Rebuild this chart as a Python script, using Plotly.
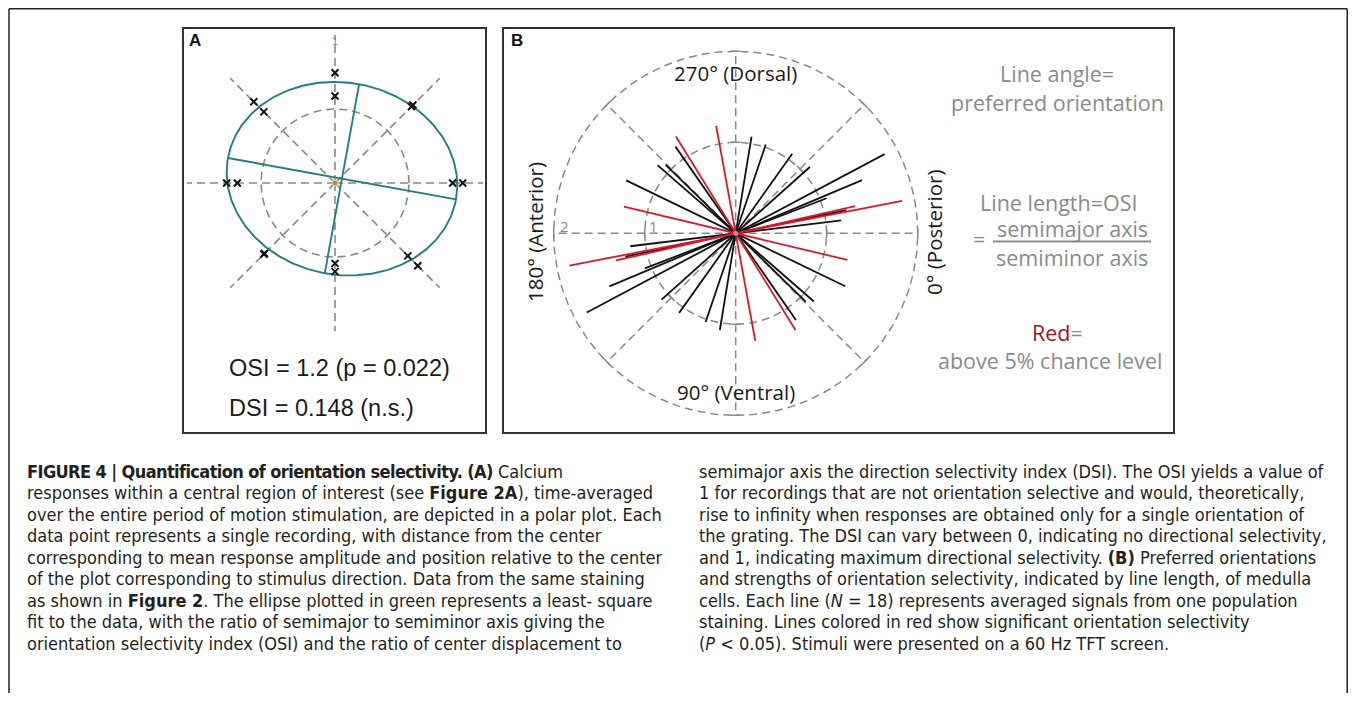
import numpy as np
import plotly.graph_objects as go

# Browser window 1356x701; the page body has an 8px margin, so the figure is
# sized to fit inside it and every reference pixel position is offset by 8px.
WIN_W, WIN_H, OFF = 1356, 701, 8
W, H = WIN_W - 2 * OFF, WIN_H - 2 * OFF

# ---------------- Panel A data (polar plot of responses) ----------------
a_directions = [0, 0, 45, 45, 90, 90, 135, 135, 180, 180, 225, 225, 270, 270, 315, 315]
a_responses = [0.795, 0.863, 0.73, 0.745, 0.745, 0.588, 0.776, 0.68,
               0.732, 0.66, 0.674, 0.68, 0.543, 0.599, 0.696, 0.791]
ellipse_center = [0.047, 0.029]
ellipse_semimajor = 0.783
ellipse_semiminor = 0.649
ellipse_tilt_deg = -10.3
a_grid_radius = 0.5
a_spoke_angles = [0, 45, 90, 135, 180, 225, 270, 315]
a_max_radius = 1.0

# ---------------- Panel B data (preferred orientation, OSI) ----------------
b_orientation_deg = [79.7, 58.3, 99.3, 108.7, 55.2, 125.4, 152.0, 41.1, 44.3,
                     138.2, 157.2, 25.8, 158.9, 169.0, 13.4, 167.2, 168.1, 173.0]
b_osi = [1.20, 1.25, 1.077, 1.03, 1.16, 1.073, 1.853, 1.14, 1.075,
         1.093, 1.506, 1.337, 1.07, 1.863, 1.262, 1.347, 1.24, 1.168]
b_significant = [True, True, False, False, False, False, False, False, False,
                 False, False, False, False, True, True, True, False, False]
b_grid_radii = [1, 2]
b_spoke_angles = [0, 45, 90, 135, 180, 225, 270, 315]

GRID = "#888888"
TEAL = "#217f80"
RED = "#d9182b"
DASH = "8px,5px"


def px(x):
    return (x - OFF) / W


def py(y):
    return 1 - (y - OFF) / H


def domains(cx, cy, scale, half):
    return ([px(cx - scale * half), px(cx + scale * half)],
            [py(cy + scale * half), py(cy - scale * half)])


fig = go.Figure()

# ---------------- Panel A traces ----------------
t = np.linspace(0, 2 * np.pi, 361)
fig.add_trace(go.Scatter(x=a_grid_radius * np.cos(t), y=a_grid_radius * np.sin(t), mode="lines",
                         line=dict(color=GRID, width=1.6, dash=DASH), xaxis="x", yaxis="y",
                         hoverinfo="skip", showlegend=False))
for ang in a_spoke_angles:
    r = np.radians(ang)
    fig.add_trace(go.Scatter(x=[0, a_max_radius * np.cos(r)], y=[0, a_max_radius * np.sin(r)],
                             mode="lines", line=dict(color=GRID, width=1.6, dash=DASH),
                             xaxis="x", yaxis="y", hoverinfo="skip", showlegend=False))
fig.add_trace(go.Scatter(x=[0], y=[0], mode="markers",
                         marker=dict(symbol="circle-open", size=6, line=dict(color="#999999", width=1.2)),
                         xaxis="x", yaxis="y", hoverinfo="skip", showlegend=False))

tilt = np.radians(ellipse_tilt_deg)
ex = ellipse_semimajor * np.cos(t)
ey = ellipse_semiminor * np.sin(t)
fig.add_trace(go.Scatter(x=ellipse_center[0] + ex * np.cos(tilt) - ey * np.sin(tilt),
                         y=ellipse_center[1] + ex * np.sin(tilt) + ey * np.cos(tilt),
                         mode="lines", line=dict(color=TEAL, width=1.9), xaxis="x", yaxis="y",
                         hoverinfo="skip", showlegend=False))
for length, ang in [(ellipse_semimajor, tilt), (ellipse_semiminor, tilt + np.pi / 2)]:
    fig.add_trace(go.Scatter(x=[ellipse_center[0] - length * np.cos(ang), ellipse_center[0] + length * np.cos(ang)],
                             y=[ellipse_center[1] - length * np.sin(ang), ellipse_center[1] + length * np.sin(ang)],
                             mode="lines", line=dict(color=TEAL, width=1.9), xaxis="x", yaxis="y",
                             hoverinfo="skip", showlegend=False))

ad = np.radians(np.array(a_directions, dtype=float))
ar = np.array(a_responses)
fig.add_trace(go.Scatter(x=ar * np.cos(ad), y=ar * np.sin(ad), mode="markers",
                         marker=dict(symbol="x-thin", size=7, line=dict(color="#111111", width=2)),
                         xaxis="x", yaxis="y", hoverinfo="skip", showlegend=False))

# ---------------- Panel B traces ----------------
for rr in b_grid_radii:
    fig.add_trace(go.Scatter(x=rr * np.cos(t), y=rr * np.sin(t), mode="lines",
                             line=dict(color=GRID, width=1.5, dash=DASH), xaxis="x2", yaxis="y2",
                             hoverinfo="skip", showlegend=False))
for ang in b_spoke_angles:
    r = np.radians(ang)
    fig.add_trace(go.Scatter(x=[0, max(b_grid_radii) * np.cos(r)], y=[0, max(b_grid_radii) * np.sin(r)],
                             mode="lines", line=dict(color=GRID, width=1.5, dash=DASH),
                             xaxis="x2", yaxis="y2", hoverinfo="skip", showlegend=False))
    for rr in b_grid_radii:
        c, s = np.cos(r), np.sin(r)
        h = 0.05
        fig.add_trace(go.Scatter(x=[rr * c - h * s, rr * c + h * s], y=[rr * s + h * c, rr * s - h * c],
                                 mode="lines", line=dict(color=GRID, width=1.5),
                                 xaxis="x2", yaxis="y2", hoverinfo="skip", showlegend=False))

order = [i for i in range(len(b_osi)) if not b_significant[i]] + [i for i in range(len(b_osi)) if b_significant[i]]
for i in order:
    th = np.radians(b_orientation_deg[i])
    L = b_osi[i]
    fig.add_trace(go.Scatter(x=[-L * np.cos(th), L * np.cos(th)], y=[L * np.sin(th), -L * np.sin(th)],
                             mode="lines", line=dict(color=RED if b_significant[i] else "#111111", width=1.8),
                             xaxis="x2", yaxis="y2", hoverinfo="skip", showlegend=False))
fig.add_trace(go.Scatter(x=[0], y=[0], mode="markers", marker=dict(color="#9a9a9a", size=5),
                         xaxis="x2", yaxis="y2", hoverinfo="skip", showlegend=False))

# ---------------- axes ----------------
axA_x, axA_y = domains(335, 183, 148, 1.05)
axB_x, axB_y = domains(735.7, 233.3, 91, 2.2)
hidden = dict(visible=False, showgrid=False, zeroline=False, fixedrange=True)
fig.update_layout(
    xaxis=dict(domain=axA_x, range=[-1.05, 1.05], **hidden),
    yaxis=dict(domain=axA_y, range=[-1.05, 1.05], **hidden),
    xaxis2=dict(domain=axB_x, range=[-2.2, 2.2], **hidden),
    yaxis2=dict(domain=axB_y, range=[-2.2, 2.2], **hidden),
)

# ---------------- frames ----------------
shapes = []
frame = dict(color="#222222", width=1.5)
right_edge = OFF + W - 0.8
shapes.append(dict(type="line", xref="paper", yref="paper", x0=px(9), x1=px(right_edge), y0=py(8.8), y1=py(8.8), line=frame))
shapes.append(dict(type="line", xref="paper", yref="paper", x0=px(9), x1=px(9), y0=py(8.8), y1=py(OFF + H), line=frame))
shapes.append(dict(type="line", xref="paper", yref="paper", x0=px(right_edge), x1=px(right_edge), y0=py(8.8), y1=py(OFF + H), line=frame))
box = dict(color="#333333", width=2)
shapes.append(dict(type="rect", xref="paper", yref="paper", x0=px(183), x1=px(486), y0=py(433), y1=py(28), line=box))
shapes.append(dict(type="rect", xref="paper", yref="paper", x0=px(503), x1=px(1174), y0=py(433), y1=py(28), line=box))
# fraction bar
shapes.append(dict(type="line", xref="paper", yref="paper", x0=px(993), x1=px(1151), y0=py(241.5), y1=py(241.5),
                   line=dict(color="#8a8a8a", width=2.2)))

ann = []


def text(x, y, s, size, color="#222222", family="Liberation Sans, Arial, sans-serif", xanchor="center",
         angle=0, yanchor="middle"):
    ann.append(dict(x=px(x), y=py(y), xref="paper", yref="paper",
                    text=s, showarrow=False, xanchor=xanchor, yanchor=yanchor, textangle=angle,
                    font=dict(size=size, color=color, family=family)))


SANS = "Liberation Sans, Arial, sans-serif"
MYR = "Open Sans, Noto Sans, sans-serif"
text(195, 41, "<b>A</b>", 17, "#111111", SANS)
text(516.7, 41, "<b>B</b>", 17, "#111111", SANS)
text(334.5, 41, "1", 11, GRID, SANS)
text(227, 368, "OSI = 1.2 (p = 0.022)", 23.5, "#1a1a1a", SANS, xanchor="left")
text(227, 408, "DSI = 0.148 (n.s.)", 23.5, "#1a1a1a", SANS, xanchor="left")

text(735.5, 73, "270° (Dorsal)", 20.5, "#1a1a1a", MYR)
text(735.5, 392, "90° (Ventral)", 20.5, "#1a1a1a", MYR)
text(535, 232, "180° (Anterior)", 20.5, "#1a1a1a", MYR, angle=-90)
text(934, 233, "0° (Posterior)", 20.5, "#1a1a1a", MYR, angle=-90)
text(564, 226, "2", 15, GRID, MYR)
text(653.5, 226, "1", 15, GRID, MYR)

GRAYT = "#8a8a8a"
text(1056.5, 73, "Line angle=", 21.5, GRAYT, MYR)
text(1057, 102, "preferred orientation", 21.5, GRAYT, MYR)
text(1058.5, 202, "Line length=OSI", 21.5, GRAYT, MYR)
text(979, 239, "=", 21.5, GRAYT, MYR)
text(1072, 228, "semimajor axis", 21.5, GRAYT, MYR)
text(1072, 257, "semiminor axis", 21.5, GRAYT, MYR)
text(1057, 332, "<span style='color:#a3151f'>Red</span>=", 21.5, GRAYT, MYR)
text(1050, 360, "above 5% chance level", 21.5, GRAYT, MYR)

# ---------------- caption ----------------
HEAD = "<span style='letter-spacing:-0.6px'><b>FIGURE 4 | Quantification of orientation selectivity. (A)</b></span>"
left_lines = [
    HEAD + " Calcium",
    "responses within a central region of interest (see <b>Figure 2A</b>), time-averaged",
    "over the entire period of motion stimulation, are depicted in a polar plot. Each",
    "data point represents a single recording, with distance from the center",
    "corresponding to mean response amplitude and position relative to the center",
    "of the plot corresponding to stimulus direction. Data from the same staining",
    "as shown in <b>Figure 2</b>. The ellipse plotted in green represents a least- square",
    "fit to the data, with the ratio of semimajor to semiminor axis giving the",
    "orientation selectivity index (OSI) and the ratio of center displacement to",
]
right_lines = [
    "semimajor axis the direction selectivity index (DSI). The OSI yields a value of",
    "1 for recordings that are not orientation selective and would, theoretically,",
    "rise to infinity when responses are obtained only for a single orientation of",
    "the grating. The DSI can vary between 0, indicating no directional selectivity,",
    "and 1, indicating maximum directional selectivity. <b>(B)</b> Preferred orientations",
    "and strengths of orientation selectivity, indicated by line length, of medulla",
    "cells. Each line (<i>N</i> = 18) represents averaged signals from one population",
    "staining. Lines colored in red show significant orientation selectivity",
    "(<i>P</i> &lt; 0.05). Stimuli were presented on a 60 Hz TFT screen.",
]
CAP = "Liberation Sans Narrow, Arial Narrow, DejaVu Sans Condensed, sans-serif"
y0, dy = 471, 21.5
for k, s in enumerate(left_lines):
    text(25, y0 + k * dy, s, 18, "#231f20", CAP, xanchor="left")
for k, s in enumerate(right_lines):
    text(697, y0 + k * dy, s, 18, "#231f20", CAP, xanchor="left")

fig.update_layout(width=W, height=H, margin=dict(l=0, r=0, t=0, b=0), paper_bgcolor="white",
                  plot_bgcolor="rgba(0,0,0,0)", shapes=shapes, annotations=ann, showlegend=False)
fig.write_html("out.html")
